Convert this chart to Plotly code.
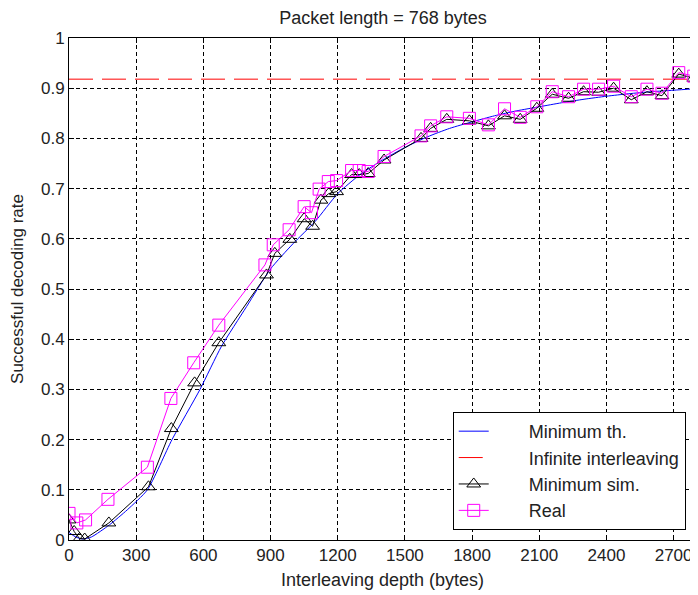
import plotly.graph_objects as go

# Minimum th. (smooth theoretical curve)
th_x = [0, 30, 60, 100, 180, 260, 350, 460, 585, 680, 793, 900, 1000, 1100, 1200, 1300, 1400, 1500, 1600, 1700, 1800, 1900, 2000, 2100, 2200, 2300, 2400, 2500, 2600, 2700, 2800]
th_y = [0.015, 0.006, 0.002, 0.006, 0.03, 0.06, 0.10, 0.20, 0.30, 0.385, 0.465, 0.54, 0.59, 0.635, 0.69, 0.728, 0.757, 0.782, 0.803, 0.82, 0.833, 0.845, 0.855, 0.863, 0.871, 0.878, 0.884, 0.889, 0.893, 0.896, 0.899]

# Infinite interleaving
inf_level = 0.918

# Minimum sim.
sim_x = [0, 23, 47, 70, 178, 355, 457, 561, 669, 882, 919, 986, 1050, 1088, 1125, 1160, 1195, 1262, 1296, 1336, 1407, 1572, 1615, 1687, 1788, 1873, 1945, 2015, 2089, 2158, 2231, 2298, 2365, 2432, 2511, 2581, 2648, 2723, 2790]
sim_y = [0.040, 0.017, 0.003, 0.002, 0.034, 0.106, 0.222, 0.313, 0.393, 0.528, 0.571, 0.599, 0.640, 0.625, 0.677, 0.690, 0.694, 0.728, 0.728, 0.730, 0.757, 0.800, 0.820, 0.838, 0.835, 0.825, 0.845, 0.838, 0.860, 0.888, 0.880, 0.893, 0.892, 0.900, 0.877, 0.893, 0.885, 0.928, 0.920]

# Real
real_x = [0, 35, 74, 174, 350, 455, 557, 669, 875, 912, 983, 1050, 1083, 1117, 1158, 1195, 1262, 1296, 1336, 1407, 1572, 1615, 1687, 1788, 1873, 1945, 2015, 2089, 2158, 2231, 2298, 2365, 2432, 2511, 2581, 2648, 2723, 2790]
real_y = [0.053, 0.034, 0.040, 0.081, 0.145, 0.282, 0.353, 0.428, 0.548, 0.588, 0.618, 0.664, 0.652, 0.699, 0.714, 0.716, 0.736, 0.736, 0.734, 0.764, 0.805, 0.825, 0.843, 0.840, 0.827, 0.859, 0.842, 0.863, 0.893, 0.883, 0.898, 0.898, 0.904, 0.883, 0.898, 0.890, 0.931, 0.924]

series_names = ["Minimum th.", "Infinite interleaving", "Minimum sim.", "Real"]

x_ticks = [0, 300, 600, 900, 1200, 1500, 1800, 2100, 2400, 2700]
y_ticks = [0, 0.1, 0.2, 0.3, 0.4, 0.5, 0.6, 0.7, 0.8, 0.9, 1]
y_tick_text = ["0", "0.1", "0.2", "0.3", "0.4", "0.5", "0.6", "0.7", "0.8", "0.9", "1"]

FONT = "Liberation Sans, Arial, sans-serif"
TXT = "#222222"
PAD = "\u00a0" * 7  # shifts legend texts right, as in the reference

fig = go.Figure()
fig.add_trace(go.Scatter(x=th_x, y=th_y, mode="lines", name=PAD + series_names[0],
                         line=dict(color="#0000ff", width=1, shape="spline", smoothing=0.6)))
fig.add_trace(go.Scatter(x=[0, 2800], y=[inf_level, inf_level], mode="lines", name=PAD + series_names[1],
                         line=dict(color="#ff0000", width=1, dash="24px,9px")))
fig.add_trace(go.Scatter(x=sim_x, y=sim_y, mode="lines+markers", name=PAD + series_names[2],
                         line=dict(color="black", width=1),
                         marker=dict(symbol="triangle-up-open", size=12, color="black", line=dict(width=1))))
fig.add_trace(go.Scatter(x=real_x, y=real_y, mode="lines+markers", name=PAD + series_names[3],
                         line=dict(color="#ff00ff", width=1),
                         marker=dict(symbol="square-open", size=12, color="#ff00ff", line=dict(width=1))))

axis_common = dict(showline=True, linecolor="black", linewidth=1, mirror="ticks",
                   ticks="inside", ticklen=5, tickcolor="black", automargin=False,
                   showgrid=True, gridcolor="black", gridwidth=1, griddash="4px,3px",
                   zeroline=False, tickfont=dict(family=FONT, size=17, color=TXT))

fig.update_xaxes(range=[0, 2800], tickvals=x_ticks, ticktext=[str(v) for v in x_ticks],
                 title=dict(text="Interleaving depth (bytes)", font=dict(family=FONT, size=18, color=TXT), standoff=8),
                 **axis_common)
fig.update_yaxes(range=[0, 1], tickvals=y_ticks, ticktext=y_tick_text,
                 title=dict(text="Successful decoding rate", font=dict(family=FONT, size=17, color=TXT), standoff=14),
                 **axis_common)

# the page body adds an 8px offset, so the figure is 690x587
fig.update_layout(
    width=690, height=587,
    margin=dict(l=61, r=2, t=30, b=55),
    paper_bgcolor="white", plot_bgcolor="white",
    title=dict(text="Packet length = 768 bytes", x=0.5435, xanchor="center", y=0.983, yanchor="middle",
               font=dict(family=FONT, size=18, color=TXT), automargin=False),
    font=dict(family=FONT, size=17, color=TXT),
    legend=dict(x=0.612, y=0.02, xanchor="left", yanchor="bottom",
                bgcolor="white", bordercolor="black", borderwidth=1,
                font=dict(family=FONT, size=18, color=TXT), tracegroupgap=0,
                itemwidth=30),
    showlegend=True,
)

fig.write_html("out.html")
